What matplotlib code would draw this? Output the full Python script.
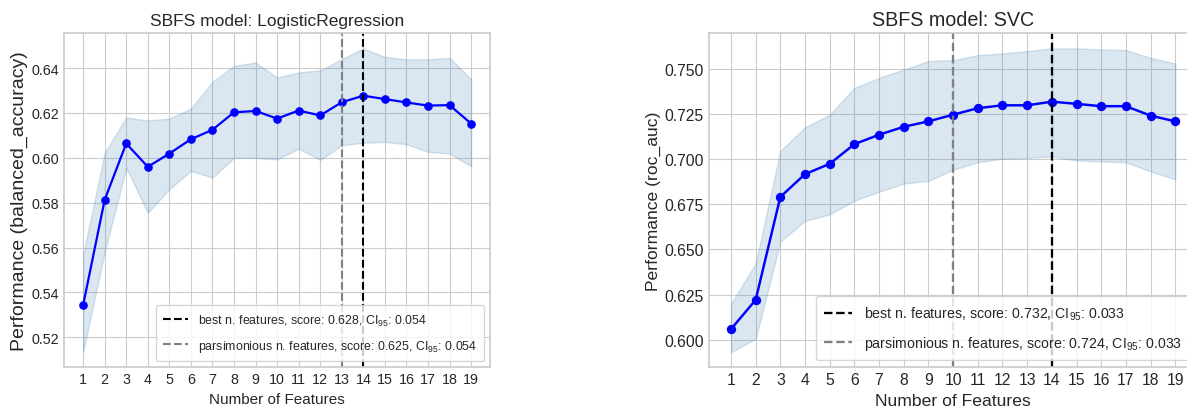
import matplotlib
matplotlib.use("Agg")
import matplotlib.pyplot as plt

# number of features on the x axis
n_features = list(range(1, 20))

# LogisticRegression, balanced_accuracy
lr_score = [0.5344, 0.5813, 0.6064, 0.5960, 0.6019, 0.6083, 0.6125, 0.6203, 0.6209, 0.6175,
            0.6211, 0.6189, 0.6248, 0.6277, 0.6262, 0.6247, 0.6233, 0.6235, 0.6153]
lr_upper = [0.5570, 0.6023, 0.6180, 0.6167, 0.6175, 0.6220, 0.6339, 0.6410, 0.6425, 0.6358,
            0.6381, 0.6390, 0.6440, 0.6488, 0.6450, 0.6439, 0.6439, 0.6446, 0.6351]
lr_lower = [0.5134, 0.5580, 0.5955, 0.5755, 0.5860, 0.5942, 0.5912, 0.6000, 0.6000, 0.5993,
            0.6041, 0.5991, 0.6056, 0.6067, 0.6071, 0.6061, 0.6027, 0.6019, 0.5962]
lr_best = (14, 0.628, 0.054)
lr_pars = (13, 0.625, 0.054)

# SVC, roc_auc
svc_score = [0.6059, 0.6221, 0.6791, 0.6917, 0.6974, 0.7083, 0.7135, 0.7179, 0.7209, 0.7246,
             0.7282, 0.7298, 0.7298, 0.7318, 0.7306, 0.7293, 0.7293, 0.7241, 0.7209]
svc_upper = [0.6200, 0.6422, 0.7046, 0.7176, 0.7246, 0.7394, 0.7450, 0.7496, 0.7543, 0.7548,
             0.7576, 0.7585, 0.7598, 0.7613, 0.7613, 0.7607, 0.7604, 0.7561, 0.7530]
svc_lower = [0.5932, 0.6006, 0.6543, 0.6659, 0.6694, 0.6770, 0.6820, 0.6865, 0.6880, 0.6941,
             0.6983, 0.7002, 0.7006, 0.7015, 0.6993, 0.6987, 0.6983, 0.6932, 0.6889]
svc_best = (14, 0.732, 0.033)
svc_pars = (10, 0.724, 0.033)

plt.style.use("seaborn-v0_8-whitegrid")
plt.rcParams["font.family"] = ["Liberation Sans", "DejaVu Sans"]
plt.rcParams["mathtext.fontset"] = "custom"
plt.rcParams["mathtext.rm"] = "Liberation Sans"
plt.rcParams["mathtext.it"] = "Liberation Sans:italic"
plt.rcParams["text.color"] = "0.15"
plt.rcParams["axes.labelcolor"] = "0.15"
plt.rcParams["xtick.color"] = "0.15"
plt.rcParams["ytick.color"] = "0.15"

fig = plt.figure(figsize=(11.87, 4.10), dpi=100)
ax1 = fig.add_axes([0.0537, 0.1017, 0.3595, 0.8149])
ax2 = fig.add_axes([0.5971, 0.1017, 0.4117, 0.8149])


# the two panels in the picture are not drawn at the same scale, so sizes go per panel
def draw(ax, score, lower, upper, best, pars, title, metric, sizes, k):
    ax.fill_between(n_features, lower, upper, color="steelblue", alpha=0.2)
    ax.plot(n_features, score, color="blue", marker="o", markersize=5.2 * k, linewidth=1.6 * k)
    ax.axvline(best[0], color="black", linestyle="--", linewidth=1.5 * k,
               label="best n. features, score: %.3f, CI$_{\\mathrm{95}}$: %.3f" % (best[1], best[2]))
    ax.axvline(pars[0], color="gray", linestyle="--", linewidth=1.5 * k,
               label="parsimonious n. features, score: %.3f, CI$_{\\mathrm{95}}$: %.3f" % (pars[1], pars[2]))
    ax.set_xticks(n_features)
    ax.set_title("SBFS model: " + title, fontsize=sizes[0])
    ax.set_xlabel("Number of Features", fontsize=sizes[1])
    ax.set_ylabel("Performance (" + metric + ")", fontsize=sizes[2], labelpad=2)
    ax.tick_params(labelsize=sizes[3])
    ax.legend(loc="lower right", frameon=True, fontsize=sizes[4], borderpad=0.6, labelspacing=0.8)
    for s in ax.spines.values():
        s.set_color("0.8")
        s.set_linewidth(1.25)


draw(ax1, lr_score, lr_lower, lr_upper, lr_best, lr_pars, "LogisticRegression", "balanced_accuracy",
     (12.5, 11, 14, 10.3, 8.9), 1.0)
draw(ax2, svc_score, svc_lower, svc_upper, svc_best, svc_pars, "SVC", "roc_auc",
     (14.2, 12.6, 12.6, 11.3, 10.2), 1.1)

fig.savefig("out.png", dpi=100)
